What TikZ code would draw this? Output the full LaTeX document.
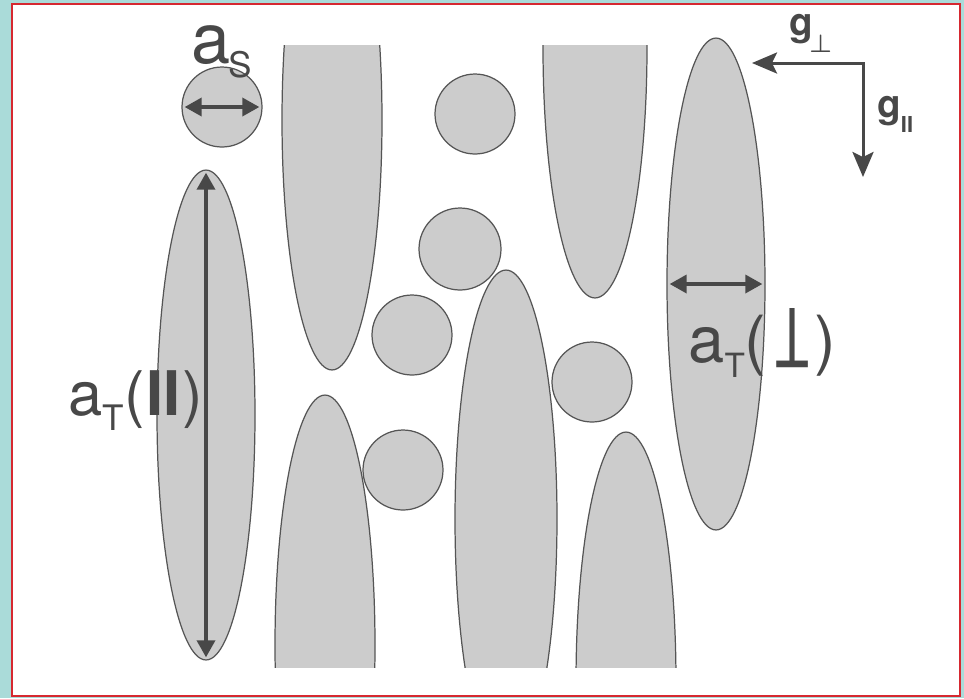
\documentclass[tikz,border=0pt]{standalone}
\usepackage{fontspec}
\setmainfont{TeX Gyre Heros}
\usetikzlibrary{positioning,shapes.geometric,arrows.meta}

\definecolor{bgcyan}{RGB}{170,219,217}
\definecolor{framered}{RGB}{214,40,48}
\definecolor{grainfill}{RGB}{204,204,204}
\definecolor{grainline}{RGB}{85,85,85}
\definecolor{inkgray}{RGB}{72,72,72}

\begin{document}
\begin{tikzpicture}[x=0.02cm, y=-0.02cm,
  grain/.style={circle, draw=grainline, fill=grainfill, line width=0.7pt, minimum size=1.6cm, inner sep=0pt, outer sep=0pt},
  rod/.style={ellipse, draw=grainline, fill=grainfill, line width=0.7pt, minimum width=2cm, minimum height=10cm, inner sep=0pt, outer sep=0pt},
  dimarrow/.style={draw=inkgray, line width=2pt, shorten <=1.5pt, shorten >=1.5pt,
    {Triangle[length=0.34cm,width=0.36cm]}-{Triangle[length=0.34cm,width=0.36cm]}},
  garrow/.style={draw=inkgray, line width=1.7pt,
    {Stealth[length=0.5cm,width=0.42cm,inset=0.1cm]}-{Stealth[length=0.5cm,width=0.42cm,inset=0.1cm]}},
  lbl/.style={text=inkgray, inner sep=0pt, anchor=base west, font=\fontsize{35pt}{40pt}\selectfont}]

\useasboundingbox (0,0) rectangle (964,698);
\fill[bgcyan] (0,0) rectangle (964,698);
\draw[framered, line width=1.2pt, fill=white] (12,4) rectangle (960,696);

% rods cut off by the edges of the sample
\begin{scope}
\clip (12,45) rectangle (960,667);
\node[rod] (rodA) at (332,120) {};
\node[rod, minimum width=2.08cm] (rodB) at (595,48) {};
\node[rod] (rodC) at (325,645) {};
\node[rod, minimum width=2.04cm, minimum height=9.96cm] (rodD) at (506,519) {};
\node[rod] (rodE) at (626,682) {};
\end{scope}

% whole rods
\node[rod, minimum width=1.96cm, minimum height=9.8cm] (rodL) at (206,415) {};
\node[rod, minimum width=1.96cm, minimum height=9.84cm] (rodR) at (716,284) {};

% spheres
\node[grain] (sphS) at (222,107) {};
\node[grain] (sph1) at (475,114) {};
\node[grain, minimum size=1.64cm] (sph2) at (460,249) {};
\node[grain] (sph3) at (412,335) {};
\node[grain] (sph4) at (592,382) {};
\node[grain] (sph5) at (403,470) {};

% sizes
\draw[dimarrow] (sphS.west) -- (sphS.east);
\draw[dimarrow] (rodL.north) -- (rodL.south);
\draw[dimarrow] (rodR.west) -- (rodR.east);

\node[lbl, font=\fontsize{40pt}{44pt}\selectfont] (labS) at (191,63)
  {a\kern-1pt\raisebox{-8pt}{\fontsize{20pt}{20pt}\selectfont S}};
\node[lbl] (labPar) at (68,415)
  {a\raisebox{-9pt}{\fontsize{20pt}{20pt}\selectfont T}(\kern1pt\textbf{II}\kern1pt)};
\node[lbl, font=\fontsize{37pt}{40pt}\selectfont] (labPerp) at (688,362)
  {a\raisebox{-9pt}{\fontsize{19pt}{19pt}\selectfont T}(\kern5pt\raisebox{-3pt}{\scalebox{0.85}[1.25]{\rotatebox[origin=c]{180}{T}}}\kern3pt)};

% directions
\coordinate (gcorner) at (863,63);
\coordinate (gperp) at (752,63);
\coordinate (gpar) at (863,177);
\draw[garrow] (gperp) -- (gcorner) -- (gpar);

\node[lbl, font=\fontsize{22pt}{24pt}\selectfont\bfseries] (labGperp) at (789,35)
  {g\kern-2pt\raisebox{-10pt}{\fontsize{14pt}{14pt}\selectfont\boldmath$\perp$}};
\node[lbl, font=\fontsize{22pt}{24pt}\selectfont\bfseries] (labGpar) at (877,117)
  {g\raisebox{-9pt}{\fontsize{12.5pt}{12.5pt}\selectfont\bfseries II}};
\end{tikzpicture}
\end{document}
